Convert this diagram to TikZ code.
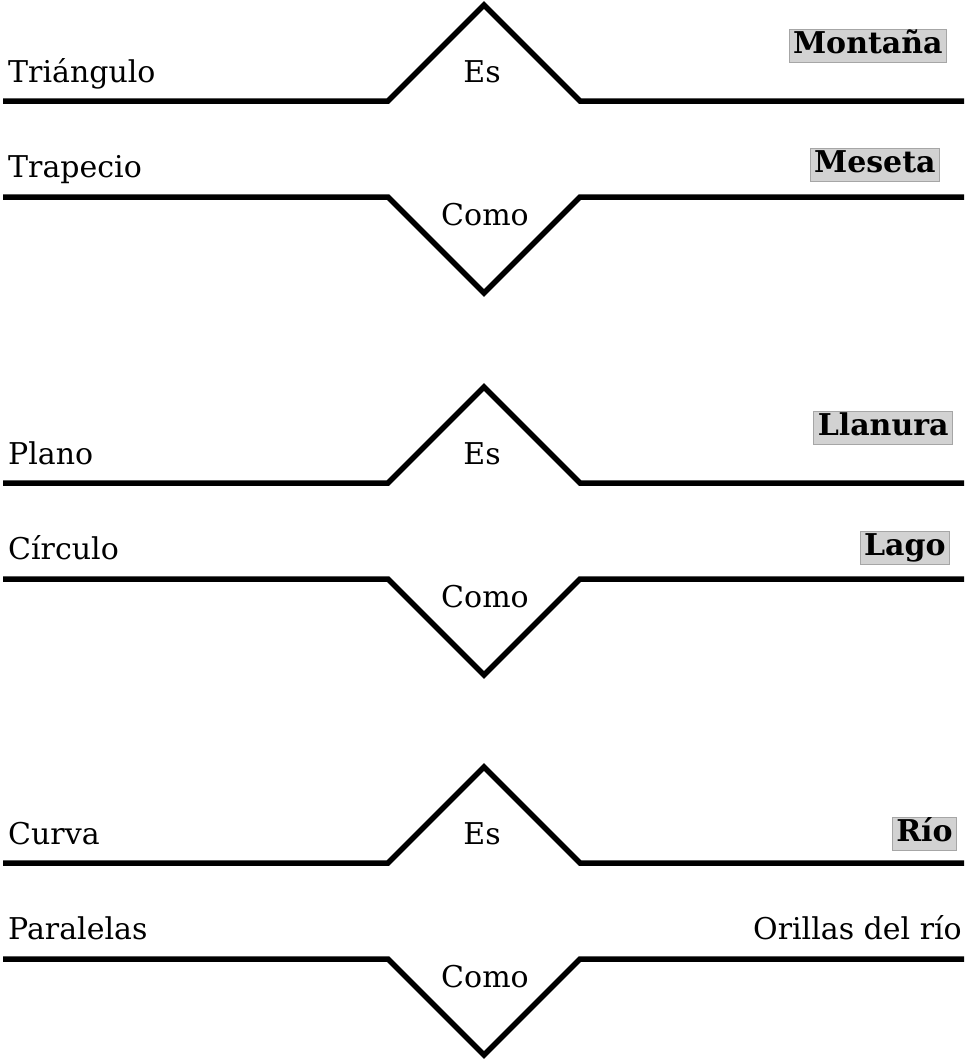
\documentclass[tikz,border=0pt]{standalone}
\usepackage{fontspec}
\setmainfont{DejaVu Serif}
\usetikzlibrary{positioning}

\begin{document}
\begin{tikzpicture}[x=1pt,y=-1pt,
txt/.style={font=\fontsize{30}{36}\selectfont,inner sep=0pt},
lab/.style={txt,anchor=base west},
mid/.style={txt,anchor=base},
hl/.style={txt,font=\fontsize{30}{36}\bfseries\selectfont,anchor=south east,
  fill=gray!35,draw=gray!70,line width=0.8pt,inner xsep=4pt,inner ysep=2pt,
  text height=22pt,text depth=7pt},
wave/.style={line width=5.5pt,line join=miter}]
\useasboundingbox (0,0) rectangle (964,1060);
% lineas: pico arriba, valle abajo
\foreach \y in {101,483,863}{
  \draw[wave] (3,\y) -- (388,\y) -- (484,{\y-96}) -- (580,\y) -- (964,\y);
  \draw[wave] (3,{\y+96}) -- (388,{\y+96}) -- (484,{\y+192}) -- (580,{\y+96}) -- (964,{\y+96});
}
% grupo 1
\node[lab] (tri) at (8,82) {Triángulo};
\node[lab] (trap) at (8,177) {Trapecio};
\node[mid] (es1) at (482,82) {Es};
\node[mid] (como1) at (485,225) {Como};
\node[hl] (mont) at (947,63) {Montaña};
\node[hl] (mes) at (940,182) {Meseta};
% grupo 2
\node[lab] (plano) at (8,464) {Plano};
\node[lab] (circ) at (8,559) {Círculo};
\node[mid] (es2) at (482,464) {Es};
\node[mid] (como2) at (485,607) {Como};
\node[hl] (llan) at (953,445) {Llanura};
\node[hl] (lago) at (950,565) {Lago};
% grupo 3
\node[lab] (curva) at (8,844) {Curva};
\node[lab] (paral) at (8,939) {Paralelas};
\node[mid] (es3) at (482,844) {Es};
\node[mid] (como3) at (485,987) {Como};
\node[hl] (rio) at (957,851) {Río};
\node[txt,anchor=base east] (orillas) at (962,939) {Orillas del río};
\end{tikzpicture}
\end{document}
